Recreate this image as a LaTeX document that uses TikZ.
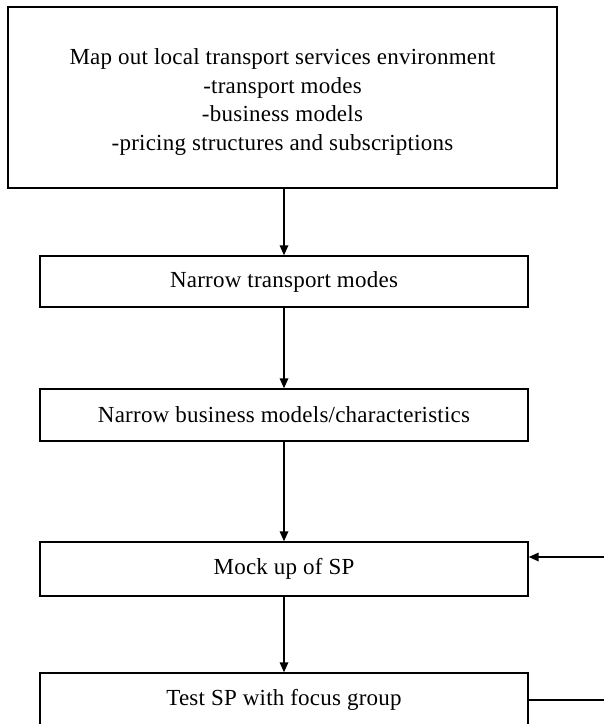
\documentclass[tikz,border=0pt]{standalone}
\usepackage{fontspec}
\setmainfont{Liberation Serif}[LetterSpace=1]
\usetikzlibrary{arrows.meta}
\begin{document}
\begin{tikzpicture}[x=1pt,y=1pt,
  box/.style={draw, line width=1.4pt, minimum width=488pt, inner sep=0pt, font=\fontsize{23}{28.5}\selectfont},
  txt/.style={inner sep=0pt, align=center, font=\fontsize{23}{28.5}\selectfont},
  conn/.style={line width=1.7pt, -{Triangle[length=10pt,width=8.5pt]}}]
\useasboundingbox (0,0) rectangle (604,-724);
\node[box, minimum width=549pt, minimum height=181pt] (map) at (282.5,-97.5) {};
\node[txt] (maptext) at (282.5,-102)
  {Map out local transport services environment\\-transport modes\\-business models\\-pricing structures and subscriptions};
\node[box, minimum height=51pt] (modes) at (284,-281.5) {\raisebox{-2.5pt}{Narrow transport modes}};
\node[box, minimum height=52pt] (biz) at (284,-415) {\raisebox{-1.5pt}{Narrow business models/characteristics}};
\node[box, minimum height=54pt] (mock) at (284,-569) {\raisebox{-1.5pt}{Mock up of SP}};
\node[box, minimum height=54pt] (test) at (284,-700) {\raisebox{-0.5pt}{Test SP with focus group}};
\draw[conn] (map.south -| modes.north) -- (modes.north);
\draw[conn] (modes) -- (biz);
\draw[conn] (biz) -- (mock);
\draw[conn] (mock) -- (test);
\coordinate (r1) at (612,-700);
\coordinate (r2) at (612,-557);
\draw[conn] (test.east |- r1) -- (r1) -- (r2) -- (r2 -| mock.east);
\end{tikzpicture}
\end{document}
